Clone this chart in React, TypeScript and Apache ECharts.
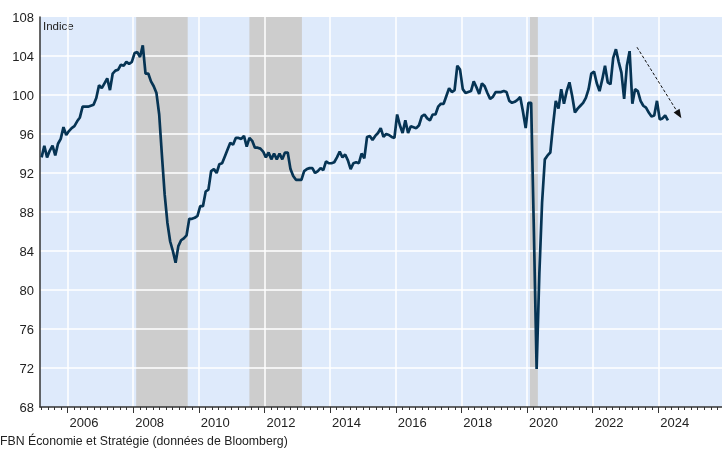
import React, { useEffect, useRef } from "react";
import * as echarts from "echarts";

// Monthly index values (2005 starts in March)
const v2005 = [93.6, 94.8, 93.6, 94.3, 94.8, 93.8, 95.0, 95.5, 96.7, 95.9];
const v2006 = [96.3, 96.6, 96.8, 97.3, 97.7, 98.8, 98.8, 98.8, 98.9, 99.0, 99.7, 101.0];
const v2007 = [100.7, 101.2, 101.7, 100.5, 102.2, 102.5, 102.6, 103.1, 103.0, 103.4, 103.2, 103.4];
const v2008 = [104.3, 104.4, 103.9, 105.1, 102.2, 102.2, 101.4, 100.9, 100.2, 98.0, 93.8, 89.8];
const v2009 = [86.9, 85.0, 84.0, 82.8, 84.5, 85.1, 85.3, 85.6, 87.3, 87.3, 87.4, 87.6];
const v2010 = [88.6, 88.6, 90.1, 90.3, 92.2, 92.4, 92.0, 92.9, 93.0, 93.7, 94.4, 95.1];
const v2011 = [94.9, 95.6, 95.6, 95.5, 95.8, 94.7, 95.6, 95.3, 94.6, 94.6, 94.5, 94.2];
const v2012 = [93.6, 94.1, 93.4, 94.0, 93.4, 94.0, 93.4, 94.1, 94.1, 92.4, 91.7, 91.3];
const v2013 = [91.3, 91.3, 92.2, 92.4, 92.5, 92.5, 92.0, 92.2, 92.5, 92.3, 93.2, 93.0];
const v2014 = [93.0, 93.1, 93.6, 94.2, 93.6, 93.9, 93.3, 92.4, 93.0, 93.1, 93.0, 94.0];
const v2015 = [93.5, 95.7, 95.8, 95.4, 95.8, 96.1, 96.6, 95.7, 96.0, 95.9, 95.7, 95.6];
const v2016 = [98.0, 96.9, 96.1, 97.4, 96.1, 96.8, 96.7, 96.6, 96.9, 97.8, 98.0, 97.6];
const v2017 = [97.4, 98.0, 98.0, 98.8, 99.1, 99.1, 99.9, 100.7, 100.3, 100.5, 103.0, 102.6];
const v2018 = [100.6, 100.2, 100.3, 100.4, 101.4, 100.8, 100.1, 101.2, 100.9, 100.2, 99.6, 99.8];
const v2019 = [100.3, 100.3, 100.3, 100.4, 100.3, 99.4, 99.2, 99.3, 99.5, 99.8, 98.3, 96.6];
const v2020 = [99.2, 99.2, 86.0, 71.9, 81.7, 89.0, 93.4, 93.8, 94.1, 96.9, 99.4, 98.6];
const v2021 = [100.6, 99.1, 100.4, 101.3, 99.9, 98.2, 98.6, 98.9, 99.2, 99.7, 100.6, 102.2];
const v2022 = [102.4, 101.2, 100.4, 101.6, 103.0, 101.3, 101.1, 103.8, 104.7, 103.4, 102.3, 99.6];
const v2023 = [103.0, 104.5, 99.1, 100.6, 100.4, 99.4, 98.9, 98.7, 98.2, 97.8, 97.9, 99.4];
const v2024 = [97.5, 97.6, 97.9, 97.4];

const yearlyValues = [
  v2005, v2006, v2007, v2008, v2009, v2010, v2011, v2012, v2013, v2014,
  v2015, v2016, v2017, v2018, v2019, v2020, v2021, v2022, v2023, v2024,
];
const FIRST_YEAR = 2005;
const FIRST_MONTH = 3;

// Recession periods (decimal years)
const recessions = [
  [2008.09, 2009.66],
  [2011.54, 2013.14],
  [2020.09, 2020.33],
];

const yGridValues = [72, 76, 80, 84, 88, 92, 96, 100, 104];
const xGridYears = [2006, 2008, 2010, 2012, 2014, 2016, 2018, 2020, 2022, 2024];
const xLabelYears = [2006, 2008, 2010, 2012, 2014, 2016, 2018, 2020, 2022, 2024];

const arrowStart = [2023.35, 104.9];
const arrowEnd = [2024.63, 98.0];

const X_MIN = 2005.16;
const X_MAX = 2025.94;

function buildPoints() {
  const pts: number[][] = [];
  yearlyValues.forEach((arr, i) => {
    const year = FIRST_YEAR + i;
    const start = i === 0 ? FIRST_MONTH : 1;
    arr.forEach((v, j) => {
      const month = start + j;
      pts.push([year + (month - 0.5) / 12, v]);
    });
  });
  return pts;
}

function minorTicks() {
  const out: number[] = [];
  for (let k = Math.ceil(X_MIN * 5); k / 5 <= X_MAX; k++) {
    out.push(Math.round(k * 2) / 10);
  }
  return out;
}

const FONT = "'Liberation Sans', Arial, sans-serif";

export default function App() {
  const ref = useRef<HTMLDivElement>(null);
  useEffect(() => {
    if (!ref.current) return;
    const chart = echarts.init(ref.current, null, { renderer: "svg" });
    const points = buildPoints();
    const option: any = {
      animation: false,
      grid: {
        left: 40,
        right: 0,
        top: 17,
        bottom: 42,
        show: true,
        backgroundColor: "#deeafb",
        borderWidth: 0,
        containLabel: false,
        outerBoundsMode: "none",
      },
      xAxis: [
        {
          type: "value",
          position: "bottom",
          min: X_MIN,
          max: X_MAX,
          z: 6,
          axisLine: { show: true, onZero: false, lineStyle: { color: "#333", width: 1.5 } },
          axisTick: { show: true, length: 3, customValues: minorTicks(), lineStyle: { color: "#333", width: 1 } },
          axisLabel: { show: false },
          splitLine: { show: false },
        },
        {
          type: "value",
          position: "bottom",
          min: X_MIN,
          max: X_MAX,
          z: 6,
          axisLine: { show: false, onZero: false },
          axisTick: { show: true, length: 6, customValues: xGridYears, lineStyle: { color: "#333", width: 1 } },
          axisLabel: {
            show: true,
            customValues: xLabelYears.map((y) => y + 0.5),
            formatter: (v: number) => String(Math.floor(v)),
            fontSize: 13,
            color: "#222",
            fontFamily: FONT,
            margin: 9,
          },
          splitLine: { show: false },
        },
      ],
      yAxis: {
        type: "value",
        min: 68,
        max: 108,
        interval: 4,
        z: 6,
        axisLine: { show: true, lineStyle: { color: "#333", width: 1.5 } },
        axisTick: { show: false },
        axisLabel: { fontSize: 13, color: "#222", fontFamily: FONT, margin: 6 },
        splitLine: { show: false },
      },
      series: [
        {
          type: "line",
          name: "helper",
          xAxisIndex: 0,
          data: [],
          silent: true,
          markArea: {
            silent: true,
            itemStyle: { color: "#cdcdcd" },
            data: recessions.map(([a, b]) => [{ xAxis: a }, { xAxis: b }]),
          },
          markLine: {
            silent: true,
            symbol: "none",
            label: { show: false },
            lineStyle: { color: "#ffffff", width: 1.5, type: "solid" },
            data: [
              ...yGridValues.map((v) => ({ yAxis: v })),
              ...xGridYears.map((v) => ({ xAxis: v })),
            ],
          },
        },
        {
          type: "line",
          name: "Indice",
          xAxisIndex: 0,
          z: 10,
          data: points,
          showSymbol: false,
          symbol: "none",
          lineStyle: { color: "#063454", width: 2.7 },
          itemStyle: { color: "#063454" },
          markLine: {
            silent: true,
            symbol: ["none", "triangle"],
            symbolSize: [7, 9],
            label: { show: false },
            lineStyle: { color: "#111", width: 1, type: [3, 2] },
            data: [[{ coord: arrowStart }, { coord: arrowEnd }]],
          },
        },
      ],
      graphic: [
        {
          type: "text",
          left: 43,
          top: 20,
          style: { text: "Indice", fontSize: 11.5, fill: "#222", fontFamily: FONT },
        },
        {
          type: "text",
          left: 0,
          top: 435,
          style: {
            text: "FBN Économie et Stratégie (données de Bloomberg)",
            fontSize: 12.3,
            fill: "#222",
            fontFamily: FONT,
          },
        },
      ],
    };
    chart.setOption(option);
    return () => chart.dispose();
  }, []);
  return (
    <div
      ref={ref}
      style={{ position: "fixed", left: 0, top: 0, width: 722, height: 449 }}
    />
  );
}
